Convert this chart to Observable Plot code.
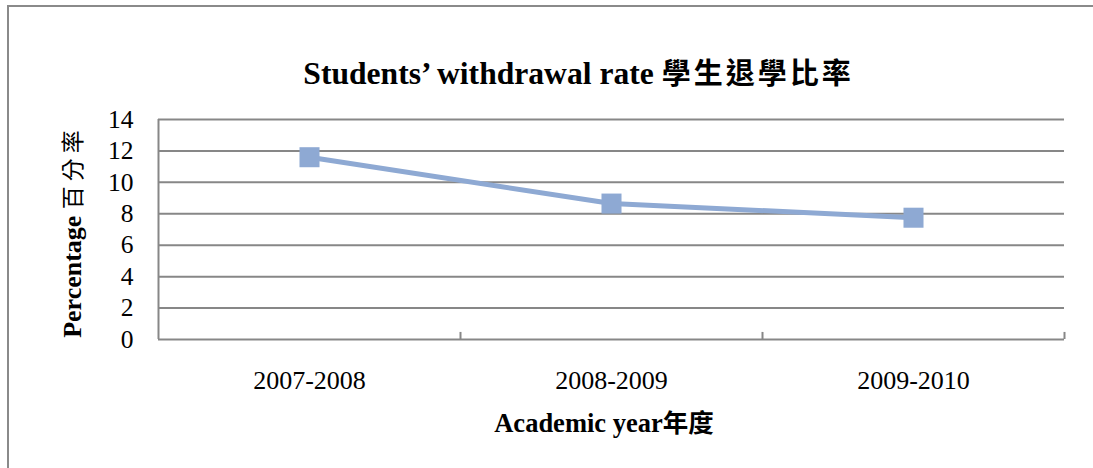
<!DOCTYPE html>
<html>
<head>
<meta charset="utf-8">
<script src="https://cdn.jsdelivr.net/npm/d3@7"></script>
<script src="https://cdn.jsdelivr.net/npm/@observablehq/plot@0.6"></script>
<style>
  html, body { margin: 0; padding: 0; background: #fff; }
  #wrap { position: relative; width: 1093px; height: 468px; overflow: hidden; background: #fff; }
  #wrap svg { position: absolute; left: 0; top: 0; }
  #border { position: absolute; left: 7px; top: 5px; width: 1200px; height: 600px; border: 2px solid #8a8a8a; pointer-events: none; }
</style>
</head>
<body>
<div id="wrap"></div>
<script>
const categories = ["2007-2008", "2008-2009", "2009-2010"];
const rates = [11.6, 8.65, 7.75];
const yTicks = [0, 2, 4, 6, 8, 10, 12, 14];
const titleText = "Students’ withdrawal rate ";
const titleCJK = "學生退學比率";
const xTitleText = "Academic year";
const xTitleCJK = "年度";
const yTitleText = "Percentage ";
const yTitleCJK = "百分率";

const W = 1093, H = 468;
const mL = 158, mR = 29, mT = 119, mB = 129;
const bw = (W - mL - mR) / categories.length;
const data = categories.map((c, i) => ({year: c, rate: rates[i]}));
const lineColor = "#8EA9D3";
const gridColor = "#878787";

const svg = Plot.plot({
  width: W, height: H,
  marginLeft: mL, marginRight: mR, marginTop: mT, marginBottom: mB,
  style: {background: "transparent", fontFamily: "'Liberation Serif', 'Times New Roman', serif", color: "#000", overflow: "visible"},
  x: {type: "band", domain: categories, padding: 0, axis: null},
  y: {domain: [0, 14], axis: null},
  marks: [
    Plot.ruleY(yTicks, {stroke: gridColor, strokeWidth: 2}),
    Plot.ruleX([categories[0]], {x: d => d, dx: -bw / 2, stroke: gridColor, strokeWidth: 2}),
    Plot.ruleX(categories.slice(1), {x: d => d, dx: -bw / 2, y1: 0, y2: 0.45, stroke: gridColor, strokeWidth: 2}),
    Plot.ruleX(categories.slice(-1), {x: d => d, dx: bw / 2, y1: 0, y2: 0.45, stroke: gridColor, strokeWidth: 2}),
    Plot.axisY(yTicks, {tickSize: 0, tickPadding: 25, fontSize: 25.5, fill: "#000", label: null}),
    Plot.axisX({tickSize: 0, tickPadding: 31, fontSize: 26, fill: "#000", label: null}),
    Plot.line(data, {x: "year", y: "rate", stroke: lineColor, strokeWidth: 5}),
    Plot.dot(data, {x: "year", y: "rate", symbol: "square", r: 11.3, fill: lineColor, stroke: "none"})
  ]
});

const s = d3.select(svg);
// Title
const t = s.append("text").attr("x", 578.5).attr("y", 84.3).attr("text-anchor", "middle").attr("fill", "#000");
t.append("tspan").attr("font-family", "'Liberation Serif', serif").attr("font-weight", "bold").attr("font-size", 31.6).text(titleText);
t.append("tspan").attr("font-family", "'Noto Sans CJK TC', sans-serif").attr("font-weight", "bold").attr("font-size", 29).attr("letter-spacing", 3).text(titleCJK);
// X title
const xt = s.append("text").attr("x", 604).attr("y", 431.7).attr("text-anchor", "middle").attr("fill", "#000");
xt.append("tspan").attr("font-family", "'Liberation Serif', serif").attr("font-weight", "bold").attr("font-size", 26.5).text(xTitleText);
xt.append("tspan").attr("font-family", "'Noto Sans CJK TC', sans-serif").attr("font-weight", "bold").attr("font-size", 25.5).text(xTitleCJK);
// Y title
const yt = s.append("text").attr("transform", "translate(81,231.5) rotate(-90)").attr("text-anchor", "middle").attr("fill", "#000");
yt.append("tspan").attr("font-family", "'Liberation Serif', serif").attr("font-weight", "bold").attr("font-size", 26).text(yTitleText);
yt.append("tspan").attr("font-family", "'Noto Sans CJK TC', sans-serif").attr("font-weight", "normal").attr("font-size", 23).attr("letter-spacing", 5).text(yTitleCJK);

const wrap = document.getElementById("wrap");
wrap.appendChild(svg);
const b = document.createElement("div");
b.id = "border";
wrap.appendChild(b);
</script>
</body>
</html>
